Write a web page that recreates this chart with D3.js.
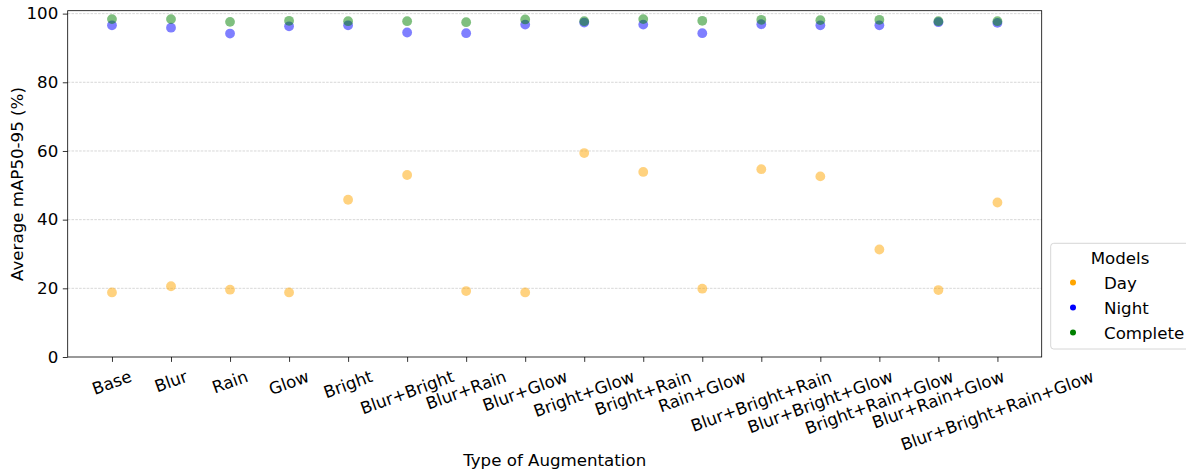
<!DOCTYPE html>
<html>
<head>
<meta charset="utf-8">
<script src="https://cdn.jsdelivr.net/npm/d3@7"></script>
<style>
  html, body { margin: 0; padding: 0; background: #fff; }
  svg text { font-family: "DejaVu Sans", sans-serif; fill: #000; }
</style>
</head>
<body>
<svg id="chart" width="1186" height="473"></svg>
<script>
const categories = ["Base","Blur","Rain","Glow","Bright","Blur+Bright","Blur+Rain","Blur+Glow",
  "Bright+Glow","Bright+Rain","Rain+Glow","Blur+Bright+Rain","Blur+Bright+Glow",
  "Bright+Rain+Glow","Blur+Rain+Glow","Blur+Bright+Rain+Glow"];
const dayValues      = [18.8,20.6,19.6,18.8,45.8,53.0,19.2,18.8,59.4,53.9,19.9,54.7,52.6,31.3,19.5,45.0];
const nightValues    = [96.6,95.9,94.2,96.3,96.6,94.5,94.3,96.8,97.4,96.8,94.3,96.9,96.6,96.6,97.5,97.3];
const completeValues = [98.4,98.4,97.6,97.9,97.8,97.8,97.5,98.3,97.8,98.4,97.9,98.2,98.1,98.2,97.8,97.8];
const seriesNames  = ["Day","Night","Complete"];
const seriesColors = ["orange","blue","green"];
const yTicks = [0,20,40,60,80,100];
const xLabel = "Type of Augmentation";
const yLabel = "Average mAP50-95 (%)";
const legendTitle = "Models";

const series = [dayValues, nightValues, completeValues];
const svg = d3.select("#chart");
const L = 67.7, R = 1041.7, T = 10.7, B = 357;
const FS = 16.67;

const x = d3.scaleLinear().domain([-0.75, categories.length - 1 + 0.75]).range([L, R]);
const y = d3.scaleLinear().domain([0, 100.85]).range([B, T]);

// grid
svg.append("g").selectAll("line").data(yTicks.filter(d => d > 0)).join("line")
  .attr("x1", L).attr("x2", R)
  .attr("y1", d => y(d)).attr("y2", d => y(d))
  .attr("stroke", "#b0b0b0").attr("stroke-width", 0.7).attr("stroke-opacity", 0.7)
  .attr("stroke-dasharray", "2.6,1.2");

// points
series.forEach((vals, si) => {
  svg.append("g").selectAll("circle").data(vals).join("circle")
    .attr("cx", (d, i) => x(i)).attr("cy", d => y(d)).attr("r", 4.9)
    .attr("fill", seriesColors[si]).attr("fill-opacity", 0.5);
});

// frame
svg.append("rect").attr("x", L).attr("y", T).attr("width", R - L).attr("height", B - T)
  .attr("fill", "none").attr("stroke", "#000").attr("stroke-width", 0.8);

// y axis
const yAxis = d3.axisLeft(y).tickValues(yTicks).tickSize(4.9).tickPadding(4.5).tickFormat(d3.format("d"));
const gy = svg.append("g").attr("transform", `translate(${L},0)`).call(yAxis);
gy.select(".domain").remove();
gy.selectAll("line").attr("stroke", "#000").attr("stroke-width", 0.8);
gy.selectAll("text").attr("font-size", FS).attr("font-family", "DejaVu Sans").attr("fill", "#000");

// x axis
const xAxis = d3.axisBottom(x).tickValues(d3.range(categories.length)).tickSize(4.9).tickFormat("");
const gx = svg.append("g").attr("transform", `translate(0,${B})`).call(xAxis);
gx.select(".domain").remove();
gx.selectAll("line").attr("stroke", "#000").attr("stroke-width", 0.8);

// rotated tick labels (bbox top-center at tick)
const ang = 20 * Math.PI / 180;
const topY = B + 4.9 + 4.9;
const hText = FS * 1.164;
const lab = svg.append("g");
categories.forEach((c, i) => {
  const t = lab.append("text").text(c).attr("font-size", FS)
    .attr("text-anchor", "middle").attr("dominant-baseline", "central");
  const w = t.node().getComputedTextLength();
  const bh = w * Math.sin(ang) + hText * Math.cos(ang);
  const cx = x(i), cy = topY + bh / 2;
  t.attr("x", cx).attr("y", cy).attr("transform", `rotate(-20,${cx},${cy})`);
});

// axis labels
svg.append("text").text(xLabel).attr("x", (L + R) / 2).attr("y", 466)
  .attr("text-anchor", "middle").attr("font-size", FS);
svg.append("text").text(yLabel).attr("transform", `translate(23,184) rotate(-90)`)
  .attr("text-anchor", "middle").attr("font-size", FS);

// legend
const lg = svg.append("g");
lg.append("rect").attr("x", 1050.7).attr("y", 243.3).attr("width", 139).attr("height", 105.7)
  .attr("rx", 3).attr("fill", "#fff").attr("fill-opacity", 0.8)
  .attr("stroke", "#cccccc").attr("stroke-width", 0.8);
lg.append("text").text(legendTitle).attr("x", 1120).attr("y", 263.5)
  .attr("text-anchor", "middle").attr("font-size", FS);
seriesNames.forEach((n, i) => {
  const yy = 282.5 + i * 25;
  lg.append("circle").attr("cx", 1073).attr("cy", yy).attr("r", 3).attr("fill", seriesColors[i]);
  lg.append("text").text(n).attr("x", 1104).attr("y", yy + 6.3).attr("font-size", FS);
});
</script>
</body>
</html>
